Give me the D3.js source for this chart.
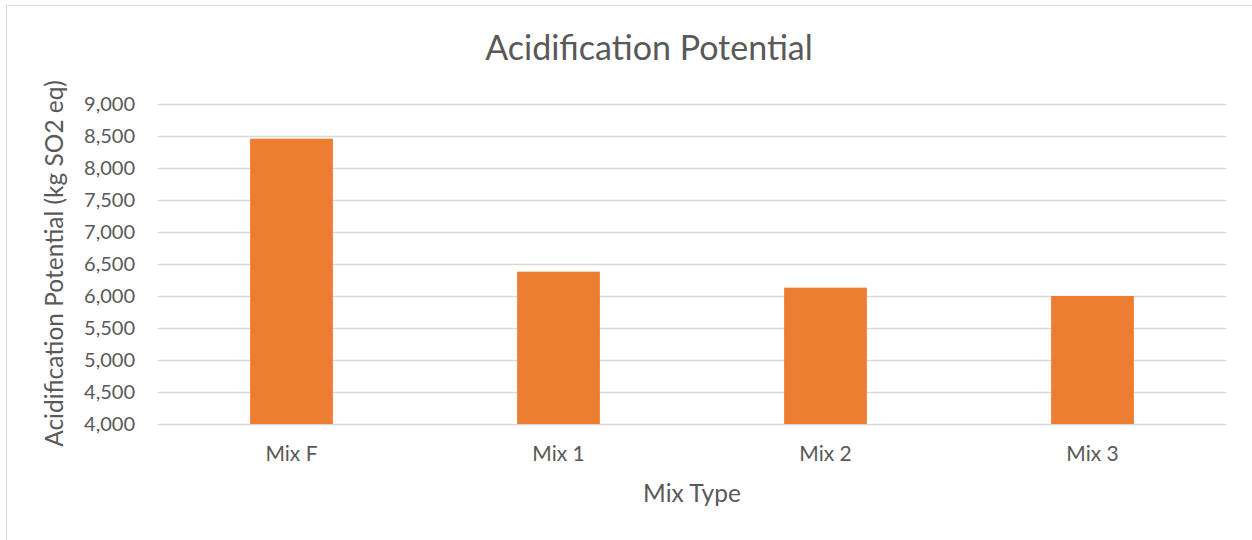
<!DOCTYPE html>
<html>
<head>
<meta charset="utf-8">
<script src="https://cdn.jsdelivr.net/npm/d3@7"></script>
<style>
  html, body { margin: 0; padding: 0; background: #fff; }
  svg text { font-family: Lato, "Open Sans", sans-serif; fill: #595959; }
</style>
</head>
<body>
<svg id="chart" width="1252" height="540"></svg>
<script>
// Acidification potential per mix design
const categories = ["Mix F", "Mix 1", "Mix 2", "Mix 3"];
const values = [8458, 6380, 6130, 6000];
const yTicks = [4000, 4500, 5000, 5500, 6000, 6500, 7000, 7500, 8000, 8500, 9000];

const svg = d3.select("#chart");
const plot = { left: 158, right: 1226, top: 104, bottom: 424 };

// outer frame of the chart area
svg.append("rect")
  .attr("x", 6.5).attr("y", 5.5)
  .attr("width", 1300).attr("height", 600)
  .attr("fill", "none").attr("stroke", "#d9d9d9").attr("stroke-width", 1);

const x = d3.scaleBand()
  .domain(categories)
  .range([plot.left, plot.right])
  .paddingInner(0.69)
  .paddingOuter(0.345);

const y = d3.scaleLinear()
  .domain([4000, 9000])
  .range([plot.bottom, plot.top]);

// horizontal gridlines
svg.append("g")
  .selectAll("line")
  .data(yTicks)
  .join("line")
  .attr("x1", plot.left).attr("x2", plot.right)
  .attr("y1", d => Math.round(y(d)) + 0.5)
  .attr("y2", d => Math.round(y(d)) + 0.5)
  .attr("stroke", "#d9d9d9").attr("stroke-width", 1.3);

// bars
svg.append("g")
  .selectAll("rect")
  .data(values)
  .join("rect")
  .attr("x", (d, i) => x(categories[i]))
  .attr("width", x.bandwidth())
  .attr("y", d => y(d))
  .attr("height", d => y(4000) - y(d))
  .attr("fill", "#ed7d31");

// y axis tick labels
const fmt = d3.format(",");
const yAxis = d3.axisLeft(y).tickValues(yTicks).tickFormat(fmt).tickSize(0).tickPadding(0);
const yg = svg.append("g").attr("transform", `translate(${plot.left - 23},0)`).call(yAxis);
yg.select(".domain").remove();
yg.selectAll("text").attr("font-size", 20).attr("fill", "#595959")
  .style("font-family", "Lato, 'Open Sans', sans-serif");

// x axis category labels
const xAxis = d3.axisBottom(x).tickSize(0).tickPadding(0);
const xg = svg.append("g").attr("transform", `translate(0,${plot.bottom + 22})`).call(xAxis);
xg.select(".domain").remove();
xg.selectAll("text").attr("font-size", 21).attr("fill", "#595959")
  .style("font-family", "Lato, 'Open Sans', sans-serif");

// title
svg.append("text")
  .attr("x", 649).attr("y", 60)
  .attr("text-anchor", "middle")
  .attr("font-size", 34)
  .text("Acidification Potential");

// axis titles
svg.append("text")
  .attr("x", 692).attr("y", 502)
  .attr("text-anchor", "middle")
  .attr("font-size", 24.5)
  .text("Mix Type");

svg.append("text")
  .attr("transform", "translate(63,263.5) rotate(-90)")
  .attr("text-anchor", "middle")
  .attr("font-size", 24.5)
  .text("Acidification Potential (kg SO2 eq)");
</script>
</body>
</html>
